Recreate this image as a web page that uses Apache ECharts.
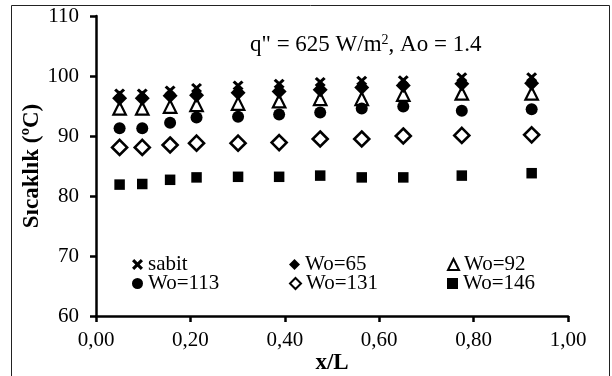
<!DOCTYPE html>
<html>
<head>
<meta charset="utf-8">
<script src="https://cdn.jsdelivr.net/npm/echarts@6/dist/echarts.min.js"></script>
<style>
  html, body { margin: 0; padding: 0; background: #fff; }
  #chart { width: 612px; height: 376px; }
</style>
</head>
<body>
<div id="chart"></div>
<script>
// Position along the channel (x/L)
const xL = [0.05, 0.098, 0.157, 0.213, 0.301, 0.388, 0.475, 0.563, 0.651, 0.775, 0.923];

// Temperatures (°C) for each case
const sabit  = [97.1, 97.1, 97.6, 98.0, 98.4, 98.7, 99.0, 99.2, 99.3, 99.8, 99.8];
const wo65   = [96.3, 96.3, 96.7, 96.8, 97.2, 97.4, 97.7, 98.1, 98.4, 98.7, 98.8];
const wo92   = [94.6, 94.6, 94.9, 95.2, 95.4, 95.8, 96.2, 96.2, 96.9, 97.1, 97.1];
const wo113  = [91.3, 91.3, 92.2, 93.1, 93.2, 93.6, 93.9, 94.6, 94.9, 94.2, 94.45];
const wo131  = [88.1, 88.1, 88.5, 88.8, 88.8, 88.9, 89.5, 89.5, 90.0, 90.1, 90.2];
const wo146  = [81.9, 82.0, 82.7, 83.1, 83.2, 83.2, 83.4, 83.1, 83.1, 83.4, 83.8];

const yTicks = [60, 70, 80, 90, 100, 110];
const xTicks = [0, 0.2, 0.4, 0.6, 0.8, 1.0];

const FONT = '"Liberation Serif", "Times New Roman", serif';
const crossPath = 'path://M0,2 L2,0 L5,3 L8,0 L10,2 L7,5 L10,8 L8,10 L5,7 L2,10 L0,8 L3,5 Z';

const pair = arr => arr.map((v, i) => [xL[i], v]);

const seriesDefs = [
  { name: 'sabit',  data: sabit, symbol: crossPath, size: [11, 10], fill: '#000', border: 0 },
  { name: 'Wo=65',  data: wo65,  symbol: 'diamond', size: 15, fill: '#000', border: 0 },
  { name: 'Wo=92',  data: wo92,  symbol: 'triangle', size: 12.5, fill: 'rgba(0,0,0,0)', border: 2.2 },
  { name: 'Wo=113', data: wo113, symbol: 'circle',  size: 12, fill: '#000', border: 0 },
  { name: 'Wo=131', data: wo131, symbol: 'diamond', size: 15, fill: '#fff', border: 2.6 },
  { name: 'Wo=146', data: wo146, symbol: 'rect',    size: 10.5, fill: '#000', border: 0 }
];

const legendSpots = [
  { left: 127, top: 249 }, { left: 284, top: 249 }, { left: 442, top: 249 },
  { left: 127, top: 268 }, { left: 284, top: 268 }, { left: 442, top: 268 }
];

const chart = echarts.init(document.getElementById('chart'), null, { renderer: 'canvas' });

chart.setOption({
  animation: false,
  backgroundColor: '#fff',
  title: {
    text: '{a|q" = 625 W/m}{s|2}{a|, Ao = 1.4}',
    left: 245,
    top: 28,
    textStyle: {
      fontWeight: 'normal',
      rich: {
        a: { fontFamily: FONT, fontSize: 23, fontWeight: 'normal', color: '#000' },
        s: { fontFamily: FONT, fontSize: 14, fontWeight: 'normal', color: '#000', padding: [0, 0, 10, 0] }
      }
    }
  },
  legend: seriesDefs.map((s, i) => ({
    data: [s.name],
    left: legendSpots[i].left,
    top: legendSpots[i].top,
    itemWidth: 11,
    itemHeight: 11,
    textStyle: { fontFamily: FONT, fontSize: 21, color: '#000' },
    selectedMode: false
  })),
  grid: { left: 96, right: 44, top: 16, bottom: 60, containLabel: false, outerBoundsMode: 'none' },
  xAxis: {
    type: 'value',
    min: xTicks[0],
    max: xTicks[xTicks.length - 1],
    interval: 0.2,
    name: 'x/L',
    nameLocation: 'middle',
    nameGap: 36,
    nameMoveOverlap: false,
    nameTextStyle: { fontFamily: FONT, fontSize: 23, fontWeight: 'bold', color: '#000' },
    axisLine: { lineStyle: { color: '#000', width: 2.5 } },
    axisTick: { inside: false, length: 6, lineStyle: { color: '#000', width: 2.5 } },
    axisLabel: {
      fontFamily: FONT, fontSize: 21, color: '#000', margin: 14,
      formatter: v => v.toFixed(2).replace('.', ',')
    },
    splitLine: { show: false }
  },
  yAxis: {
    type: 'value',
    min: yTicks[0],
    max: yTicks[yTicks.length - 1],
    interval: 10,
    name: 'Sıcaklık (ºC)',
    nameLocation: 'middle',
    nameGap: 52,
    nameMoveOverlap: false,
    nameTextStyle: { fontFamily: FONT, fontSize: 23, fontWeight: 'bold', color: '#000' },
    axisLine: { show: true, lineStyle: { color: '#000', width: 2.5 } },
    axisTick: { show: true, inside: false, length: 6, lineStyle: { color: '#000', width: 2.5 } },
    axisLabel: { fontFamily: FONT, fontSize: 21, color: '#000', margin: 17 },
    splitLine: { show: false }
  },
  graphic: [{
    type: 'rect',
    shape: { x: 11.5, y: 5.5, width: 598, height: 380 },
    style: { fill: 'none', stroke: '#222', lineWidth: 1 },
    silent: true,
    z: -1
  }],
  series: seriesDefs.map(s => ({
    name: s.name,
    type: 'scatter',
    data: pair(s.data),
    symbol: s.symbol,
    symbolSize: s.size,
    itemStyle: {
      color: s.fill,
      borderColor: '#000',
      borderWidth: s.border,
      opacity: 1
    }
  }))
});
</script>
</body>
</html>
